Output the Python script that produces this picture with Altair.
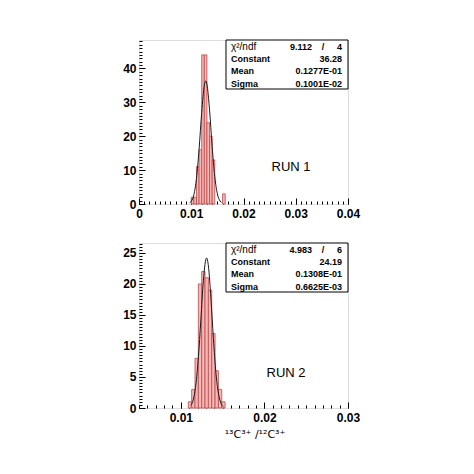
import altair as alt
import pandas as pd

# ---------------- data ----------------
# RUN 1 histogram
run1_bin_start = [0.0100, 0.0105, 0.0110, 0.0115, 0.0120, 0.0125, 0.0130, 0.0135, 0.0140, 0.0160]
run1_bin_end = [0.0105, 0.0110, 0.0115, 0.0120, 0.0125, 0.0130, 0.0135, 0.0140, 0.0145, 0.0165]
run1_counts = [2, 2, 11, 16, 44, 44, 24, 20, 13, 3]
# RUN 1 fitted curve
run1_fit_x = [0.0097, 0.0100, 0.0105, 0.0110, 0.0115, 0.0120, 0.0125, 0.01277, 0.0130, 0.0135, 0.0140, 0.0145, 0.0150, 0.0155, 0.0158]
run1_fit_y = [0.3, 0.8, 2.7, 7.6, 16.2, 27.0, 35.0, 36.3, 35.3, 27.8, 17.0, 8.1, 3.0, 0.9, 0.4]
run1_stats = [("Constant", "36.28"), ("Mean", "0.1277E-01"), ("Sigma", "0.1001E-02")]
run1_chi = ("9.112", "4")

# RUN 2 histogram
run2_bin_start = [0.0109, 0.0113, 0.0117, 0.0121, 0.0125, 0.0129, 0.0133, 0.0137, 0.0141, 0.0145, 0.0149]
run2_bin_end = [0.0113, 0.0117, 0.0121, 0.0125, 0.0129, 0.0133, 0.0137, 0.0141, 0.0145, 0.0149, 0.0153]
run2_counts = [1, 3, 8, 20, 22, 21, 19, 12, 6, 3, 1]
run2_fit_x = [0.0112, 0.0115, 0.0118, 0.0121, 0.0124, 0.0127, 0.01308, 0.0133, 0.0136, 0.0139, 0.0142, 0.0145, 0.0148, 0.0151]
run2_fit_y = [0.4, 1.4, 3.7, 8.1, 14.2, 20.5, 24.2, 22.9, 17.7, 11.2, 5.7, 2.4, 0.8, 0.2]
run2_stats = [("Constant", "24.19"), ("Mean", "0.1308E-01"), ("Sigma", "0.6625E-03")]
run2_chi = ("4.983", "6")

# axes
run1_x_domain = [0.0, 0.04]
run1_y_domain = [0, 48.4]
run1_x_major = [0.0, 0.01, 0.02, 0.03, 0.04]
run1_x_minor = [i / 1000 for i in range(0, 41)]
run1_y_major = [0, 10, 20, 30, 40]
run1_y_minor = list(range(0, 49))

run2_x_domain = [0.005, 0.03]
run2_y_domain = [0, 26.6]
run2_x_major = [0.01, 0.02, 0.03]
run2_x_minor = [i / 1000 for i in range(5, 31)]
run2_y_major = [0, 5, 10, 15, 20, 25]
run2_y_minor = [i / 2 for i in range(0, 54)]

x_title = "\u00b9\u00b3C\u00b3\u207a /\u00b9\u00b2C\u00b3\u207a"

W = 209
FONT = "Liberation Sans"


def panel(bs, be, cnt, fx, fy, stats, chi, xdom, ydom, xmaj, xmin, ymaj, ymin,
          run_label, H, rows_y, box_h, run_pos, with_title):
    hist = pd.DataFrame({"start": bs, "end": be, "count": cnt})
    fit = pd.DataFrame({"x": fx, "y": fy})
    xs = alt.Scale(domain=xdom, nice=False, zero=False)
    ys = alt.Scale(domain=ydom, nice=False)

    lab_x = alt.Axis(orient="bottom", values=xmaj, ticks=False, domain=False, grid=False,
                     labelFont=FONT, labelFontWeight="bold", labelFontSize=12, labelColor="black",
                     labelPadding=4, labelFlush=False, title=None, format="~g",
                     minExtent=20, maxExtent=20)
    lab_y = alt.Axis(orient="left", values=ymaj, ticks=False, domain=False, grid=False,
                     labelFont=FONT, labelFontWeight="bold", labelFontSize=12, labelColor="black",
                     labelPadding=3, labelFlush=False, title=None, minExtent=30, maxExtent=30)
    maj_x = alt.Axis(orient="top", offset=-H, values=xmaj, labels=False, domain=False, grid=False,
                     tickSize=6, tickColor="black", title=None)
    maj_y = alt.Axis(orient="right", offset=-W, values=ymaj, labels=False, domain=False, grid=False,
                     tickSize=6, tickColor="black", title=None)
    min_x = alt.Axis(orient="top", offset=-H, values=xmin, labels=False, domain=False, grid=False,
                     tickSize=3, tickColor="black", title=None)
    min_y = alt.Axis(orient="right", offset=-W, values=ymin, labels=False, domain=False, grid=False,
                     tickSize=3, tickColor="black", title=None)

    bars = alt.Chart(hist).mark_rect(fill="#f7b8b8", stroke="#c04848", strokeWidth=0.8).encode(
        x=alt.X("start:Q", scale=xs, axis=lab_x),
        x2="end:Q",
        y=alt.Y("count:Q", scale=ys, axis=lab_y),
        y2=alt.datum(0),
    )
    curve = alt.Chart(fit).mark_line(color="#1a1a1a", strokeWidth=1, interpolate="monotone").encode(
        x=alt.X("x:Q", scale=xs, axis=maj_x),
        y=alt.Y("y:Q", scale=ys, axis=maj_y),
    )
    ghost = alt.Chart(fit).mark_line(opacity=0).encode(
        x=alt.X("x:Q", scale=xs, axis=min_x),
        y=alt.Y("y:Q", scale=ys, axis=min_y),
    )

    one = pd.DataFrame({"a": [0]})
    box = alt.Chart(one).mark_rect(fill="white", stroke="black", strokeWidth=1).encode(
        x=alt.value(87), x2=alt.value(W), y=alt.value(0), y2=alt.value(box_h))

    def txt(t, x, y, size=9, weight="bold", align="left", font=FONT):
        return alt.Chart(one).mark_text(text=t, font=font, fontSize=size, fontWeight=weight,
                                        align=align, baseline="middle", color="black").encode(
            x=alt.value(x), y=alt.value(y))

    texts = [
        txt("\u03c7\u00b2/ndf", 92, rows_y[0], size=10, weight="normal"),
        txt(chi[0], 173, rows_y[0], align="right"),
        txt("/", 184, rows_y[0], align="center"),
        txt(chi[1], 203, rows_y[0], align="right"),
    ]
    for (name, val), ry in zip(stats, rows_y[1:]):
        texts.append(txt(name, 92, ry))
        texts.append(txt(val, 203, ry, align="right"))
    texts.append(txt(run_label, run_pos[0], run_pos[1], size=13, weight="normal", align="center"))
    if with_title:
        texts.append(txt(x_title, 116, H + 27, size=11, weight="normal", align="center",
                         font="DejaVu Sans"))

    return alt.layer(bars, curve, ghost, box, *texts).resolve_axis(
        x="independent", y="independent").properties(width=W, height=H)


top = panel(run1_bin_start, run1_bin_end, run1_counts, run1_fit_x, run1_fit_y, run1_stats, run1_chi,
            run1_x_domain, run1_y_domain, run1_x_major, run1_x_minor, run1_y_major, run1_y_minor,
            "RUN 1", 164, [6.5, 18.5, 31, 43.5], 49, (152, 127), False)
bottom = panel(run2_bin_start, run2_bin_end, run2_counts, run2_fit_x, run2_fit_y, run2_stats, run2_chi,
               run2_x_domain, run2_y_domain, run2_x_major, run2_x_minor, run2_y_major, run2_y_minor,
               "RUN 2", 165, [6.5, 18.5, 31, 43.5], 49, (147, 130), True)

chart = alt.vconcat(top, bottom, spacing=17).properties(
    padding={"left": 100, "top": 31, "right": 5, "bottom": 5}
).configure_view(stroke="black", strokeWidth=1).configure(background="white")

chart.save("out.html", embed_options={"renderer": "svg", "actions": False})
